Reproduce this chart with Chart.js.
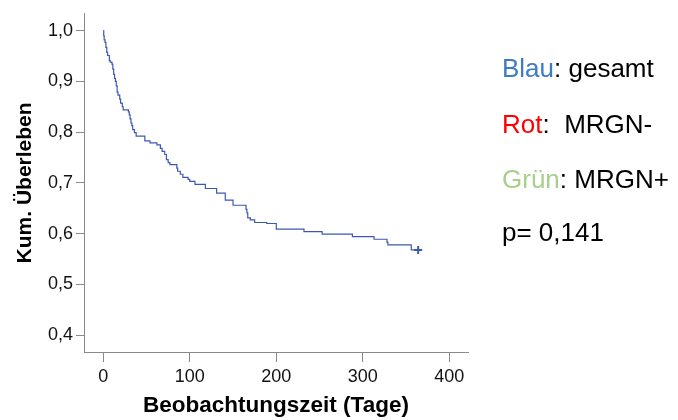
<!DOCTYPE html>
<html>
<head>
<meta charset="utf-8">
<script src="https://cdn.jsdelivr.net/npm/chart.js@4"></script>
<style>
  html, body { margin: 0; padding: 0; background: #ffffff; }
  #wrap { position: relative; width: 678px; height: 420px; }
</style>
</head>
<body>
<div id="wrap"><canvas id="c"></canvas></div>
<script>
// ---- data ----
const times = [0, 0.5, 1, 2, 3, 4, 5, 7, 8, 10, 11, 12, 13, 14, 15, 16, 17, 19, 20, 22, 23,
  29, 30, 31, 32, 33, 34, 36, 38, 48, 54, 62, 66, 68, 71, 73, 75, 77, 85, 86, 89, 92, 98,
  100, 106, 118, 131, 141, 150, 165, 166, 167, 170, 175, 189, 200, 232, 253, 288, 313, 328,
  329, 356, 364];
const survival = [1.000, 0.990, 0.982, 0.977, 0.967, 0.957, 0.951, 0.941, 0.938, 0.934, 0.924,
  0.914, 0.906, 0.900, 0.891, 0.879, 0.873, 0.865, 0.857, 0.850, 0.844,
  0.840, 0.834, 0.826, 0.818, 0.813, 0.805, 0.799, 0.792, 0.783, 0.779, 0.775, 0.768, 0.762,
  0.756, 0.746, 0.740, 0.736, 0.729, 0.723, 0.717, 0.711, 0.707,
  0.703, 0.697, 0.689, 0.680, 0.666, 0.656, 0.648, 0.641, 0.631, 0.627, 0.622, 0.620, 0.609,
  0.604, 0.599, 0.594, 0.589, 0.583, 0.578, 0.568, 0.568];
const censorTimes = [364];
const censorSurvival = [0.568];

const xTicks = [0, 100, 200, 300, 400];
const yTicks = [0.4, 0.5, 0.6, 0.7, 0.8, 0.9, 1.0];
const yTickLabels = ['0,4', '0,5', '0,6', '0,7', '0,8', '0,9', '1,0'];
const xTitle = 'Beobachtungszeit (Tage)';
const yTitle = 'Kum. Überleben';

const noteKeys = ['Blau', 'Rot', 'Grün'];
const noteTexts = [': gesamt', ':  MRGN-', ': MRGN+'];
const noteColors = ['#3b7cc4', '#ff0000', '#a8d08d'];
const pText = 'p= 0,141';

// ---- chart ----
const FONT = "'Liberation Sans', Arial, sans-serif";
const curveColor = 'rgb(62, 88, 178)';
const axisColor = '#8a8a8a';

const notesPlugin = {
  id: 'notes',
  afterDraw(chart) {
    const ctx = chart.ctx;
    ctx.save();
    ctx.font = '26px ' + FONT;
    ctx.textBaseline = 'alphabetic';
    ctx.textAlign = 'left';
    const x0 = 502;
    const baselines = [77, 132.5, 188, 241];
    noteKeys.forEach((k, i) => {
      ctx.fillStyle = noteColors[i];
      ctx.fillText(k, x0, baselines[i]);
      const w = ctx.measureText(k).width;
      ctx.fillStyle = '#000';
      ctx.fillText(noteTexts[i], x0 + w, baselines[i]);
    });
    ctx.fillStyle = '#000';
    ctx.fillText(pText, x0, baselines[3]);
    ctx.restore();
  }
};

new Chart(document.getElementById('c'), {
  type: 'line',
  data: {
    datasets: [
      {
        data: times.map((t, i) => ({ x: t, y: survival[i] })),
        stepped: true,
        borderColor: curveColor,
        borderWidth: 1.2,
        pointRadius: 0,
        fill: false,
        tension: 0
      },
      {
        type: 'scatter',
        data: censorTimes.map((t, i) => ({ x: t, y: censorSurvival[i] })),
        pointStyle: 'cross',
        pointRadius: 4,
        borderWidth: 2,
        borderColor: curveColor,
        backgroundColor: curveColor,
        showLine: false
      }
    ]
  },
  options: {
    responsive: true,
    maintainAspectRatio: false,
    animation: false,
    events: [],
    layout: { padding: { top: 11, right: 210, left: 0, bottom: 0 } },
    plugins: { legend: { display: false }, tooltip: { enabled: false } },
    scales: {
      x: {
        type: 'linear',
        min: -22.3,
        max: 421.6,
        afterBuildTicks: s => { s.ticks = xTicks.map(v => ({ value: v })); },
        afterFit: s => { s.height = 68; },
        ticks: {
          font: { family: FONT, size: 18 },
          color: '#111',
          padding: 4,
          maxRotation: 0,
          autoSkip: false,
          callback: v => String(v)
        },
        grid: { display: true, drawOnChartArea: false, drawTicks: true, tickLength: 10, color: axisColor, tickColor: axisColor, lineWidth: 1 },
        border: { display: true, color: axisColor, width: 1 },
        title: {
          display: true,
          text: xTitle,
          color: '#000',
          font: { family: FONT, size: 22.5, weight: 'bold' },
          padding: { top: 0, bottom: 1 }
        }
      },
      y: {
        type: 'linear',
        min: 0.3668,
        max: 1.0332,
        afterBuildTicks: s => { s.ticks = yTicks.map(v => ({ value: v })); },
        afterFit: s => { s.width = 84; },
        ticks: {
          font: { family: FONT, size: 18 },
          color: '#111',
          padding: 3,
          autoSkip: false,
          callback: (v) => {
            const i = yTicks.findIndex(t => Math.abs(t - v) < 1e-6);
            return i >= 0 ? yTickLabels[i] : '';
          }
        },
        grid: { display: true, drawOnChartArea: false, drawTicks: true, tickLength: 8, color: axisColor, tickColor: axisColor, lineWidth: 1 },
        border: { display: true, color: axisColor, width: 1 },
        title: {
          display: true,
          text: yTitle,
          color: '#000',
          font: { family: FONT, size: 21, weight: 'bold' },
          padding: { top: 13, bottom: 0 }
        }
      }
    }
  },
  plugins: [notesPlugin]
});
</script>
</body>
</html>
